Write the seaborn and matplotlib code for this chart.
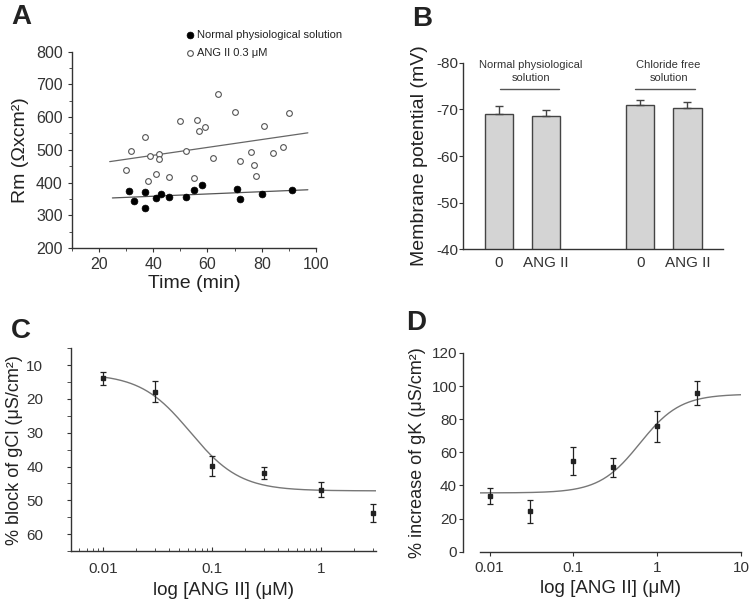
import numpy as np
import pandas as pd
import matplotlib
matplotlib.use("Agg")
from matplotlib import pyplot as plt
from matplotlib.ticker import MultipleLocator, FixedLocator, NullFormatter, LogLocator
import seaborn as sns

# ---- Panel A: Rm vs time ----
time_normal = [31, 33, 37, 37, 41, 43, 46, 52, 55, 58, 71, 72, 80, 91]
rm_normal = [374, 345, 371, 323, 353, 364, 357, 355, 377, 394, 379, 350, 365, 378]
time_ang = [30, 32, 37, 38, 39, 41, 42, 42, 46, 50, 52, 55, 56, 57, 59, 62, 64,
            70, 72, 76, 77, 78, 81, 84, 88, 90]
rm_ang = [437, 496, 539, 405, 480, 426, 488, 473, 418, 587, 498, 413, 592, 557,
          571, 475, 670, 616, 467, 494, 454, 421, 572, 489, 509, 613]
# regression line end points
fit_normal_x = [25, 97]
fit_normal_y = [353, 378]
fit_ang_x = [24, 97]
fit_ang_y = [464, 552]

# ---- Panel B: membrane potential ----
b_pos = [0, 1, 3, 4]
b_labels = ["0", "ANG II", "0", "ANG II"]
b_mean = [-69.1, -68.6, -70.9, -70.2]
b_err = [1.6, 1.2, 1.0, 1.4]

# ---- Panel C: block of gCl ----
c_conc = [0.01, 0.03, 0.1, 0.3, 1, 3]
c_block = [13.9, 17.8, 39.8, 41.9, 46.9, 53.8]
c_err = [2.0, 3.0, 3.0, 1.7, 2.2, 2.6]
c_fit = dict(bottom=12.5, top=47.2, ec50=0.063, hill=1.9)

# ---- Panel D: increase of gK ----
d_conc = [0.01, 0.03, 0.1, 0.3, 1, 3]
d_inc = [33.6, 24.5, 54.7, 50.9, 75.7, 95.8]
d_err = [5.0, 7.0, 8.5, 5.5, 9.5, 7.5]
d_fit = dict(bottom=35.5, top=95.2, ec50=0.62, hill=1.8)

sns.set_style("ticks")
plt.rcParams['font.family'] = ['Liberation Sans', 'DejaVu Sans']
plt.rcParams['axes.unicode_minus'] = False
plt.rcParams['axes.edgecolor'] = '#333333'
plt.rcParams['xtick.color'] = '#333333'
plt.rcParams['ytick.color'] = '#333333'
plt.rcParams['text.color'] = '#222222'
plt.rcParams['axes.labelcolor'] = '#222222'
plt.rcParams['axes.linewidth'] = 1.0

W, H = 750, 607
fig = plt.figure(figsize=(7.5, 6.07), dpi=100)


def add_ax(left, top, right, bottom):
    return fig.add_axes([left / W, 1 - bottom / H, (right - left) / W, (bottom - top) / H])


def hill(x, p):
    return p['bottom'] + (p['top'] - p['bottom']) / (1 + (p['ec50'] / x) ** p['hill'])


tick_fs = 11
lab_fs = 13.5

# ---------------- A ----------------
axA = add_ax(71.7, 51.7, 316, 248)
sns.lineplot(x=fit_normal_x, y=fit_normal_y, ax=axA, color='#555555', lw=0.9)
sns.lineplot(x=fit_ang_x, y=fit_ang_y, ax=axA, color='#666666', lw=0.9)
sns.scatterplot(x=time_normal, y=rm_normal, ax=axA,
                color='black', s=24, edgecolor='black', linewidth=0.5,
                label='Normal physiological solution', zorder=3)
sns.scatterplot(x=time_ang, y=rm_ang, ax=axA,
                facecolor='white', s=17, edgecolor='#555555', linewidth=0.8,
                label='ANG II 0.3 \u03bcM', zorder=3)
axA.set_xlim(10, 100)
axA.set_ylim(200, 800)
axA.set_xticks([20, 40, 60, 80, 100])
axA.xaxis.set_minor_locator(MultipleLocator(10))
axA.yaxis.set_minor_locator(MultipleLocator(50))
axA.set_xlabel('Time (min)', fontsize=lab_fs + 0.5, labelpad=2)
axA.set_ylabel('Rm (\u03a9xcm\u00b2)', fontsize=lab_fs + 0.5, labelpad=5)
axA.tick_params(labelsize=tick_fs + 0.5, length=3)
axA.tick_params(which='minor', length=2)
leg = axA.legend(loc='upper left', bbox_to_anchor=(0.445, 1.135), frameon=False,
                 fontsize=8, handletextpad=0.1, labelspacing=0.75, borderaxespad=0,
                 handlelength=1.0)
sns.despine(ax=axA)

# ---------------- B ----------------
axB = add_ax(463.3, 62.7, 723.3, 249.3)
dfB = pd.DataFrame({'pos': b_pos, 'mean': b_mean})
sns.barplot(data=dfB, x='pos', y='mean', ax=axB, native_scale=True, width=0.6,
            color='#d4d4d4', edgecolor='#444444', linewidth=1.0, errorbar=None)
axB.errorbar(b_pos, b_mean, yerr=[b_err, [0] * 4], fmt='none', ecolor='#444444',
             elinewidth=1.0, capsize=3, capthick=1.0)
axB.set_ylim(-40, -80)
axB.set_xlim(-0.75, 4.76)
axB.set_yticks([-80, -70, -60, -50, -40])
axB.set_xticks(b_pos)
axB.set_xticklabels(b_labels)
axB.tick_params(axis='x', length=0, pad=5)
axB.tick_params(axis='y', length=3, pad=0.5)
axB.tick_params(labelsize=tick_fs)
axB.set_xlabel('')
axB.set_ylabel('Membrane potential (mV)', fontsize=lab_fs + 0.5, labelpad=6)
axB.plot([0.02, 1.27], [-74.4, -74.4], color='#555555', lw=1.0)
axB.plot([2.89, 4.16], [-74.4, -74.4], color='#555555', lw=1.0)
axB.text(0.68, -75.7, 'Normal physiological\nsolution', ha='center', va='bottom',
         fontsize=8, color='#333333', linespacing=1.3)
axB.text(3.6, -75.7, 'Chloride free\nsolution', ha='center', va='bottom',
         fontsize=8, color='#333333', linespacing=1.3)
sns.despine(ax=axB)

# ---------------- C ----------------
axC = add_ax(71, 348.3, 376, 551)
xc = np.logspace(np.log10(0.01), np.log10(3.3), 200)
sns.lineplot(x=xc, y=hill(xc, c_fit), ax=axC, color='#777777', lw=1.0)
axC.errorbar(c_conc, c_block, yerr=c_err, fmt='s', color='#222222', ms=3.5,
             elinewidth=0.9, capsize=2.5, capthick=0.9, zorder=3, clip_on=False)
axC.set_xscale('log')
axC.set_xlim(0.00504, 3.2)
axC.set_ylim(65, 5)
axC.set_yticks([10, 20, 30, 40, 50, 60])
axC.yaxis.set_minor_locator(MultipleLocator(5))
axC.set_xticks([0.01, 0.1, 1])
axC.set_xticklabels(['0.01', '0.1', '1'])
axC.xaxis.set_minor_locator(LogLocator(base=10, subs=np.arange(2, 10)))
axC.xaxis.set_minor_formatter(NullFormatter())
axC.tick_params(axis='x', which='both', direction='in', pad=8)
axC.tick_params(labelsize=tick_fs, length=3)
axC.tick_params(which='minor', length=2)
axC.tick_params(axis='y', which='both', length=3, pad=17)
axC.set_xlabel('log [ANG II] (\u03bcM)', fontsize=lab_fs, labelpad=4)
axC.set_ylabel('% block of gCl (\u03bcS/cm\u00b2)', fontsize=lab_fs - 0.5, labelpad=2)
sns.despine(ax=axC)

# ---------------- D ----------------
axD = add_ax(480, 353, 741, 551.7)
xd = np.logspace(np.log10(0.0077), 1, 200)
sns.lineplot(x=xd, y=hill(xd, d_fit), ax=axD, color='#777777', lw=1.0)
axD.errorbar(d_conc, d_inc, yerr=d_err, fmt='s', color='#222222', ms=3.5,
             elinewidth=0.9, capsize=2.5, capthick=0.9, zorder=3)
axD.set_xscale('log')
axD.set_xlim(0.0077, 10)
axD.set_ylim(0, 120)
axD.set_yticks([0, 20, 40, 60, 80, 100, 120])
axD.set_xticks([0.01, 0.1, 1, 10])
axD.set_xticklabels(['0.01', '0.1', '1', '10'])
axD.xaxis.set_minor_locator(FixedLocator([]))
axD.tick_params(labelsize=tick_fs, length=3)
axD.tick_params(axis='y', pad=1.5)
axD.set_xlabel('log [ANG II] (\u03bcM)', fontsize=lab_fs, labelpad=4)
axD.set_ylabel('% increase of gK (\u03bcS/cm\u00b2)', fontsize=lab_fs - 0.5, labelpad=4)
sns.despine(ax=axD)
axD.spines['left'].set_position(('outward', 12))

# panel letters
for letter, x, y in [('A', 11, 4), ('B', 412, 6), ('C', 11, 318), ('D', 406, 310)]:
    fig.text(x / W, 1 - y / H, letter, fontsize=20, fontweight='bold', va='top', ha='left')

fig.savefig('out.png', dpi=100)
